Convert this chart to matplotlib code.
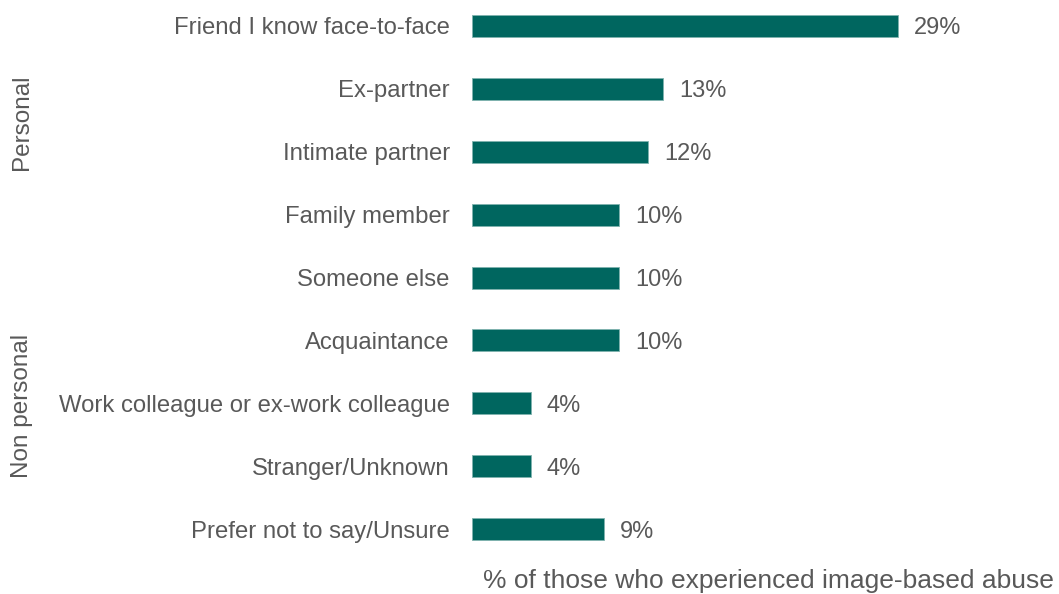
import matplotlib.pyplot as plt

plt.rcParams['font.family'] = ['Liberation Sans', 'DejaVu Sans']

categories = [
    'Friend I know face-to-face',
    'Ex-partner',
    'Intimate partner',
    'Family member',
    'Someone else',
    'Acquaintance',
    'Work colleague or ex-work colleague',
    'Stranger/Unknown',
    'Prefer not to say/Unsure',
]
values = [29, 13, 12, 10, 10, 10, 4, 4, 9]

bar_color = '#00665F'
text_color = '#595959'

fig = plt.figure(figsize=(10.59, 5.94), dpi=100)
ax = fig.add_axes([472 / 1059, 1 - 557 / 594, 1 - 472 / 1059, 557 / 594])

y = list(range(len(categories)))
ax.barh(y, values, height=0.35, color=bar_color, edgecolor='#7fb3ae', linewidth=0.6)
ax.set_ylim(8.442, -0.413)
ax.set_xlim(0, 40)

for yi, v in zip(y, values):
    ax.text(v + 1.1, yi, f'{v}%', va='center_baseline', ha='left', fontsize=17, color=text_color)

ax.set_yticks(y)
ax.set_yticklabels(categories, fontsize=17.2, color=text_color)
ax.tick_params(axis='y', length=0, pad=16)
ax.set_xticks([])
for s in ax.spines.values():
    s.set_visible(False)

fig.text(768 / 1059, 1 - 581 / 594, '% of those who experienced image-based abuse',
         ha='center', va='center', fontsize=19, color=text_color)

# group labels on the left
fig.text(22 / 1059, 1 - 122 / 594, 'Personal', rotation=90, ha='center', va='center',
         fontsize=17.5, color=text_color)
fig.text(22 / 1059, 1 - 406 / 594, 'Non personal', rotation=90, ha='center', va='center',
         fontsize=17.5, color=text_color)

fig.savefig('out.png', dpi=100)
